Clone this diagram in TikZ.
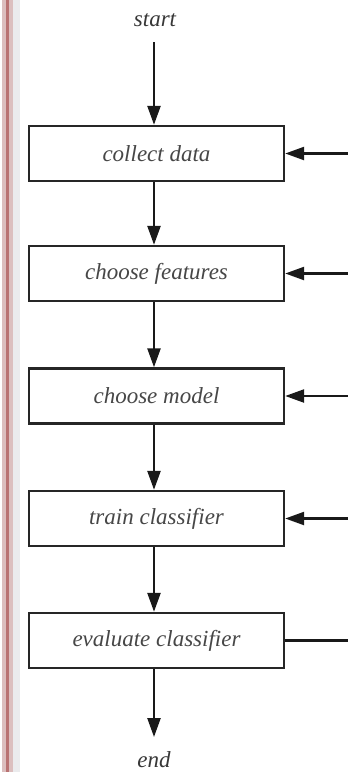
\documentclass[tikz,border=0pt]{standalone}
\usepackage{fontspec}
\setmainfont{Liberation Serif}
\usetikzlibrary{arrows.meta}
\begin{document}
\begin{tikzpicture}[x=1pt,y=-1pt,
  stepbox/.style={draw=black!85, line width=2.4pt, minimum width=255pt, minimum height=55pt,
    inner sep=0pt, font=\fontsize{23}{26}\selectfont\itshape, text=black!72},
  label/.style={font=\fontsize{23}{26}\selectfont\itshape, text=black!78, inner sep=0pt},
  flow/.style={line width=2.4pt, draw=black!90, -{Triangle[length=19pt,width=13pt]}},
  plain/.style={line width=2.4pt, draw=black!90}]
  \useasboundingbox (0,0) rectangle (348,772);
  \fill[white] (0,0) rectangle (348,772);
  % page margin rule on the left
  \fill[red!45!black!25!white] (2,0) rectangle (13,772);
  \fill[red!50!black!55!white] (6,0) rectangle (9,772);
  \fill[blue!10!black!8!white] (13,0) rectangle (20,772);

  % nodes
  \node[label] (start) at (155,20) {start};
  \node[stepbox] (collect) at (156.5,153.5) {collect data};
  \node[stepbox] (features) at (156.5,273.5) {choose features};
  \node[stepbox] (model) at (156.5,396) {choose model};
  \node[stepbox] (train) at (156.5,518.5) {train classifier};
  \node[stepbox] (evaluate) at (156.5,640.5) {evaluate classifier};
  \node[label, anchor=base] (end) at (154,767) {end};

  % right-hand feedback line ends
  \coordinate (r1) at (352,153.5);
  \coordinate (r2) at (352,273.5);
  \coordinate (r3) at (352,396);
  \coordinate (r4) at (352,518.5);
  \coordinate (r5) at (352,640.5);
  \coordinate (s0) at (154,42);
  \coordinate (e0) at (154,737);

  % main flow
  \draw[flow] (s0) -- (154,0 |- collect.north);
  \draw[flow] (154,0 |- collect.south) -- (154,0 |- features.north);
  \draw[flow] (154,0 |- features.south) -- (154,0 |- model.north);
  \draw[flow] (154,0 |- model.south) -- (154,0 |- train.north);
  \draw[flow] (154,0 |- train.south) -- (154,0 |- evaluate.north);
  \draw[flow] (154,0 |- evaluate.south) -- (e0);

  % feedback arrows
  \draw[flow] (r1) -- (collect.east);
  \draw[flow] (r2) -- (features.east);
  \draw[flow] (r3) -- (model.east);
  \draw[flow] (r4) -- (train.east);
  \draw[plain] (evaluate.east) -- (r5);
\end{tikzpicture}
\end{document}
